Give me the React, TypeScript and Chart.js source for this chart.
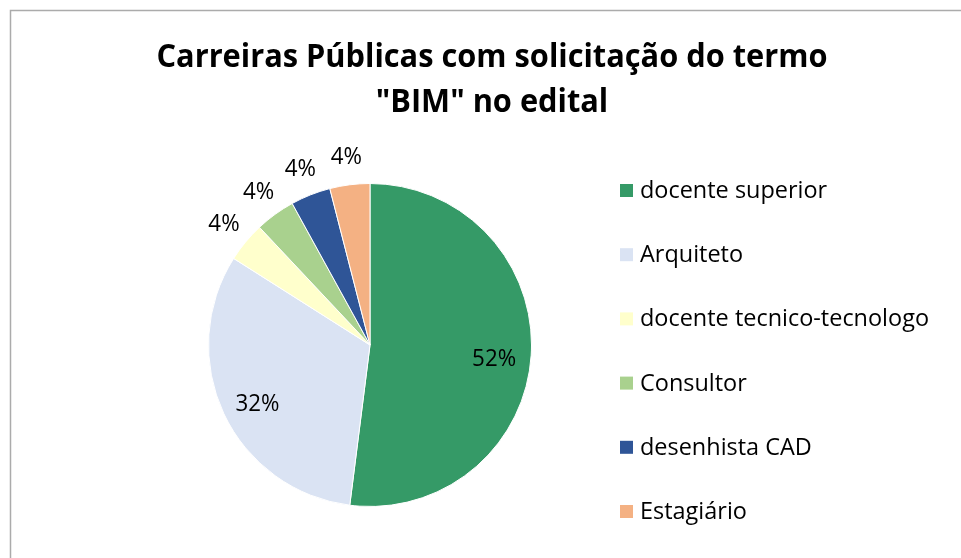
import React, { useEffect, useRef } from "react";
import { Chart, registerables } from "chart.js";

Chart.register(...registerables);

const TITLE_LINES = ["Carreiras Públicas com solicitação do termo", "\"BIM\" no edital"];
const CATEGORIES = [
  "docente superior",
  "Arquiteto",
  "docente tecnico-tecnologo",
  "Consultor",
  "desenhista CAD",
  "Estagiário",
];
const COUNTS = [13, 8, 1, 1, 1, 1];
const COLORS = ["#359A67", "#DAE3F3", "#FFFFCC", "#A9D18E", "#2F5597", "#F4B183"];

const W = 961;
const H = 558;
const FONT = "'Open Sans', 'Noto Sans', sans-serif";

function drawScaled(ctx: CanvasRenderingContext2D, text: string, x: number, y: number, sx: number, align: CanvasTextAlign) {
  ctx.save();
  ctx.translate(x, y);
  ctx.scale(sx, 1);
  ctx.textAlign = align;
  ctx.fillText(text, 0, 0);
  ctx.restore();
}

const decorPlugin = {
  id: "decor",
  afterDraw(chart: any) {
    const ctx: CanvasRenderingContext2D = chart.ctx;
    ctx.save();
    // frame
    ctx.strokeStyle = "#ABABAB";
    ctx.lineWidth = 1.5;
    ctx.beginPath();
    ctx.moveTo(10.5, H);
    ctx.lineTo(10.5, 10.5);
    ctx.lineTo(W, 10.5);
    ctx.stroke();

    // title
    ctx.fillStyle = "#000";
    ctx.textBaseline = "alphabetic";
    ctx.font = "bold 33px " + FONT;
    const tw = ctx.measureText(TITLE_LINES[0]).width;
    const tsx = 671 / tw;
    drawScaled(ctx, TITLE_LINES[0], 492, 67, tsx, "center");
    drawScaled(ctx, TITLE_LINES[1], 492, 112, tsx, "center");

    // legend
    ctx.font = "23px " + FONT;
    const lw = ctx.measureText("docente tecnico-tecnologo").width;
    const lsx = 289 / lw;
    const labels = chart.data.labels as string[];
    const bg = chart.data.datasets[0].backgroundColor as string[];
    labels.forEach((lab, i) => {
      const base = 198 + i * 64.2;
      ctx.fillStyle = bg[i];
      ctx.fillRect(620, base - 14, 13, 13);
      ctx.fillStyle = "#000";
      drawScaled(ctx, lab, 640, base, lsx, "left");
    });

    // data labels
    const data = chart.data.datasets[0].data as number[];
    const total = data.reduce((a, b) => a + b, 0);
    const meta = chart.getDatasetMeta(0);
    ctx.font = "24px " + FONT;
    const pw = ctx.measureText("52%").width;
    const psx = 44 / pw;
    ctx.textBaseline = "middle";
    meta.data.forEach((arc: any, i: number) => {
      const p = arc.getProps(["x", "y", "startAngle", "endAngle", "outerRadius"], true);
      const mid = (p.startAngle + p.endAngle) / 2;
      const pct = Math.round((data[i] / total) * 100);
      const r = pct > 10 ? p.outerRadius * 0.77 : p.outerRadius + 28;
      const lx = p.x + r * Math.cos(mid);
      const ly = p.y + r * Math.sin(mid) + (pct > 10 ? 6 : 0);
      ctx.fillStyle = "#000";
      drawScaled(ctx, pct + "%", lx, ly, psx, "center");
    });
    ctx.restore();
  },
};

export default function App() {
  const ref = useRef<HTMLCanvasElement | null>(null);
  useEffect(() => {
    if (!ref.current) return;
    const chart = new Chart(ref.current, {
      type: "pie",
      data: {
        labels: CATEGORIES,
        datasets: [
          {
            data: COUNTS,
            backgroundColor: COLORS,
            borderColor: "#ffffff",
            borderWidth: 1,
          },
        ],
      },
      options: {
        responsive: false,
        animation: false,
        devicePixelRatio: 1,
        layout: { padding: { left: 208, right: W - 532, top: 183, bottom: H - 507 } },
        plugins: {
          legend: { display: false },
          title: { display: false },
          tooltip: { enabled: false },
        },
      },
      plugins: [decorPlugin],
    });
    return () => chart.destroy();
  }, []);
  return (
    <div style={{ position: "absolute", left: 0, top: 0, width: W, height: H, background: "#fff" }}>
      <canvas ref={ref} width={W} height={H} style={{ display: "block" }} />
    </div>
  );
}
